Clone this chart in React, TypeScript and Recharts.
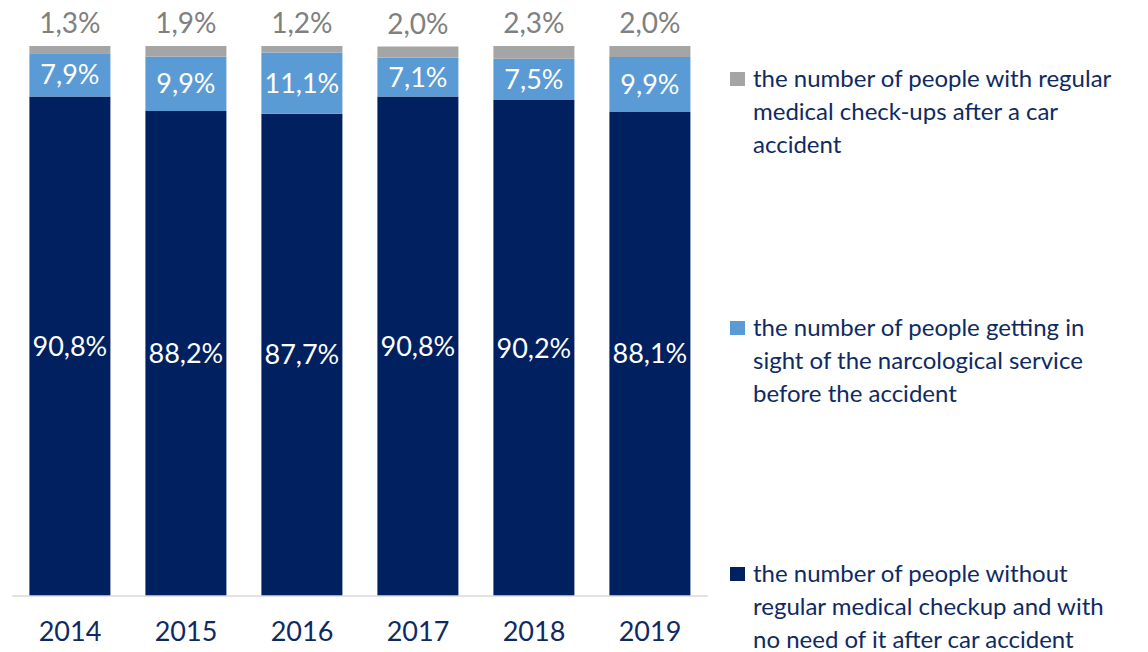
import React from 'react';
import { BarChart, Bar, XAxis, YAxis, LabelList } from 'recharts';

const years = ['2014', '2015', '2016', '2017', '2018', '2019'];
const withoutCheckup = [90.8, 88.2, 87.7, 90.8, 90.2, 88.1];
const narcological = [7.9, 9.9, 11.1, 7.1, 7.5, 9.9];
const regularCheckups = [1.3, 1.9, 1.2, 2.0, 2.3, 2.0];

const legendItems = [
    { color: '#A5A5A5', lines: ['the number of people with regular', 'medical check-ups after a car', 'accident'], top: 67 },
    { color: '#5B9BD5', lines: ['the number of people getting in', 'sight of the narcological service', 'before the accident'], top: 316 },
    { color: '#002060', lines: ['the number of people without', 'regular medical checkup and with', 'no need of it after car accident'], top: 562 },
];

const data = years.map((year, i) => ({
    year,
    dark: withoutCheckup[i],
    light: narcological[i],
    gray: regularCheckups[i],
}));

const fmt = (v: any) => `${Number(v).toFixed(1).replace('.', ',')}%`;

const FONT = 'Lato, "Noto Sans", sans-serif';
const TEXT = '#0F2A63';

const App: React.FC = () => {
    return (
        <div style={{ position: 'absolute', left: 0, top: 0, width: 1148, height: 652, fontFamily: FONT, background: '#fff' }}>
            <BarChart
                width={720}
                height={652}
                data={data}
                margin={{ top: 46, right: 12, bottom: 0, left: 12 }}
                barCategoryGap="15%"
            >
                <XAxis
                    dataKey="year"
                    axisLine={{ stroke: '#D9D9D9', strokeWidth: 1.5 }}
                    tickLine={false}
                    height={56}
                    tick={{ fill: TEXT, fontSize: 27, fontFamily: FONT }}
                    dy={18}
                />
                <YAxis hide domain={[0, 100]} />
                <Bar dataKey="dark" stackId="a" fill="#002060" isAnimationActive={false}>
                    <LabelList dataKey="dark" position="center" fill="#fff" fontSize={27} fontFamily={FONT} formatter={fmt} />
                </Bar>
                <Bar dataKey="light" stackId="a" fill="#5B9BD5" isAnimationActive={false}>
                    <LabelList dataKey="light" position="center" fill="#fff" fontSize={27} fontFamily={FONT} formatter={fmt} />
                </Bar>
                <Bar dataKey="gray" stackId="a" fill="#A5A5A5" isAnimationActive={false}>
                    <LabelList dataKey="gray" position="top" offset={13} fill="#808080" fontSize={28} fontFamily={FONT} formatter={fmt} />
                </Bar>
            </BarChart>
            {legendItems.map((item) => (
                <div key={item.top} style={{ position: 'absolute', left: 730, top: item.top, display: 'flex' }}>
                    <div style={{ width: 15, height: 14, background: item.color, marginTop: 5, marginRight: 8 }} />
                    <div style={{ color: TEXT, fontSize: 24 }}>
                        {item.lines.map((l, i) => (
                            <div key={l} style={{ whiteSpace: 'nowrap', lineHeight: '22px', height: 22, marginBottom: i < 2 ? 11 : 0 }}>{l}</div>
                        ))}
                    </div>
                </div>
            ))}
        </div>
    );
};

export default App;
